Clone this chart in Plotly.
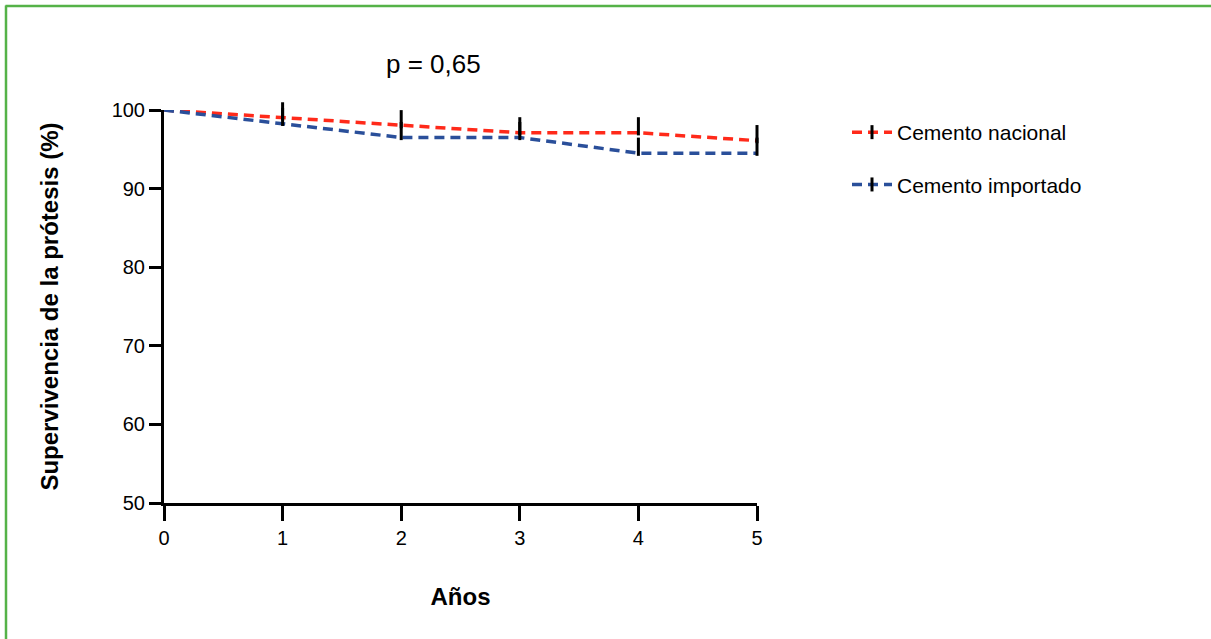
import plotly.graph_objects as go

years = [0, 1, 2, 3, 4, 5]
nacional = [100, 99.0, 98.0, 97.1, 97.1, 96.1]
importado = [100, 98.3, 96.5, 96.5, 94.5, 94.5]
censor_years = [1, 2, 3, 4, 5]
y_ticks = [50, 60, 70, 80, 90, 100]
x_ticks = [0, 1, 2, 3, 4, 5]

FONT = "Liberation Sans, Arial, Helvetica, sans-serif"
RED = "#ff2a1a"
BLUE = "#2a4f9a"

L, R, T, B = 164, 757, 110, 503
W, H = 1211, 639
pw, ph = R - L, B - T
Y0, Y1 = 50, 100
TICK = 13  # censor tick size (px)
lift = (TICK / 2) / (ph / (Y1 - Y0))  # shift so tick rises above the curve


def px_x(p):
    return (p - L) / pw


def px_y(p):
    return (B - p) / ph


def censor_y(series):
    return [series[years.index(c)] + lift for c in censor_years]


fig = go.Figure()
for name, ys, col, grp in [("Cemento nacional", nacional, RED, "a"),
                           ("Cemento importado", importado, BLUE, "b")]:
    fig.add_trace(go.Scatter(
        x=years, y=ys, mode="lines", showlegend=False, legendgroup=grp,
        line=dict(color=col, width=3.5, dash="10px,6px"), cliponaxis=False,
    ))
    fig.add_trace(go.Scatter(
        x=censor_years, y=censor_y(ys), mode="markers", showlegend=False,
        legendgroup=grp,
        marker=dict(symbol="line-ns", size=TICK, color="black",
                    line=dict(color="black", width=3)),
        cliponaxis=False,
    ))
    fig.add_trace(go.Scatter(
        x=[None], y=[None], name=name, mode="lines+markers", legendgroup=grp,
        line=dict(color=col, width=3.5, dash="10px,6px"),
        marker=dict(symbol="line-ns", size=10, color="black",
                    line=dict(color="black", width=3)),
    ))

fig.update_layout(
    width=W, height=H,
    margin=dict(l=L, r=W - R, t=T, b=H - B, autoexpand=False),
    paper_bgcolor="white", plot_bgcolor="white",
    font=dict(family=FONT, color="black", size=20),
    showlegend=True,
    legend=dict(x=px_x(847), y=px_y(112), xanchor="left", yanchor="top",
                font=dict(size=21), tracegroupgap=22, bgcolor="rgba(0,0,0,0)",
                itemwidth=40),
    xaxis=dict(range=[0, 5], tickvals=x_ticks, showgrid=False, zeroline=False,
               showline=True, linecolor="black", linewidth=3,
               ticks="outside", ticklen=15, tickwidth=3, tickcolor="black",
               tickfont=dict(size=20),
               title=dict(text="<b>Años</b>", font=dict(size=24), standoff=41)),
    yaxis=dict(range=[Y0, Y1], tickvals=y_ticks, showgrid=False, zeroline=False,
               showline=True, linecolor="black", linewidth=3,
               ticks="outside", ticklen=12, tickwidth=3, tickcolor="black",
               tickfont=dict(size=20),
               title=dict(text="<b>Supervivencia de la prótesis (%)</b>",
                          font=dict(size=24), standoff=47)),
    annotations=[dict(text="p = 0,65", x=px_x(433), y=px_y(64),
                      xref="paper", yref="paper", showarrow=False,
                      xanchor="center", yanchor="middle",
                      font=dict(size=26))],
    shapes=[
        dict(type="line", xref="paper", yref="paper",
             x0=px_x(5.5), x1=px_x(W), y0=px_y(6), y1=px_y(6),
             line=dict(color="#55b248", width=2.5)),
        dict(type="line", xref="paper", yref="paper",
             x0=px_x(6), x1=px_x(6), y0=px_y(5.5), y1=px_y(H),
             line=dict(color="#55b248", width=2.5)),
    ],
)

fig.write_html("out.html",
               config={"displayModeBar": False},
               post_script="document.body.style.margin='0';"
                           "document.body.style.padding='0';")
